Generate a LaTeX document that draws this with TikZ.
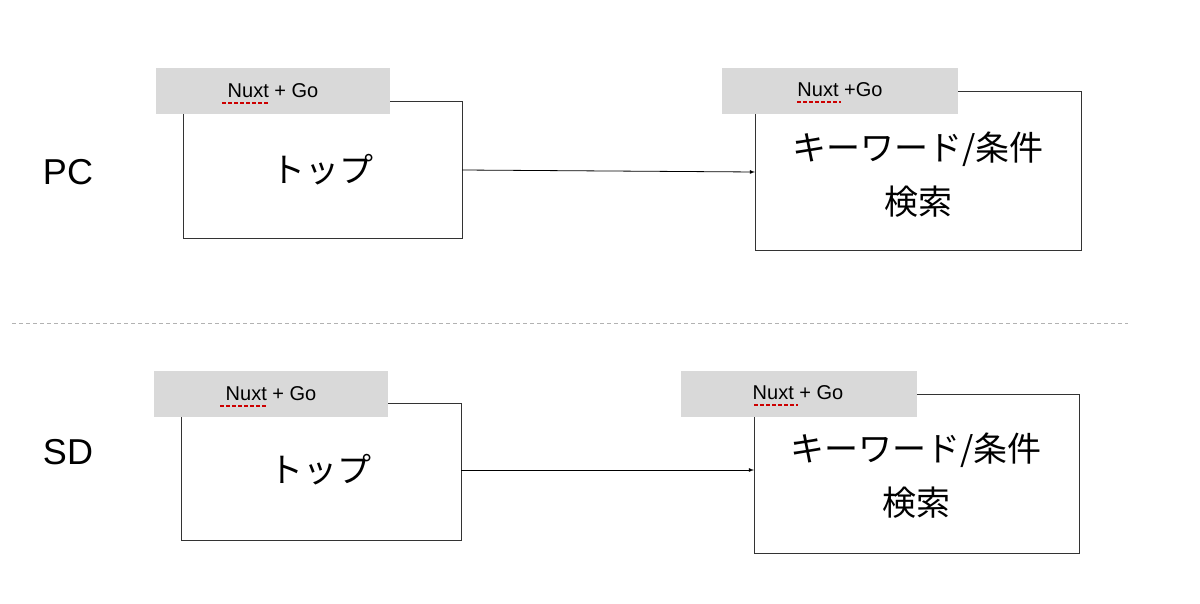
\documentclass[tikz,border=0pt]{standalone}
\usepackage{fontspec}
\setmainfont{Liberation Sans}
\newfontfamily\cjk{Noto Sans CJK JP}
\begin{document}
\begin{tikzpicture}[x=1pt,y=-1pt,
  box/.style={draw=black!80,line width=0.8pt,fill=white},
  tab/.style={fill=black!15},
  nx/.style={font=\fontsize{20}{24}\selectfont},
  jp/.style={font=\cjk\fontsize{34}{40}\selectfont,align=center},
  lbl/.style={font=\fontsize{36}{40}\selectfont},
  arr/.style={-latex,line width=0.8pt},
  sq/.style={red!80!black,dashed,line width=1.5pt,dash pattern=on 4pt off 2pt}]
\useasboundingbox (0,0) rectangle (1200,604);
\fill[white] (0,0) rectangle (1200,604);
% PC row
\node[lbl] (pc) at (68,172) {PC};
\draw[box] (183,101) rectangle (462,238);
\coordinate (b1e) at (462,170);
\fill[tab] (156,68) rectangle (390,114);
\node[nx] (n1) at (273,91) {Nuxt + Go};
\draw[sq] (222,103) -- (269,103);
\node[jp] (t1) at (322,170) {トップ};
\draw[box] (755,91) rectangle (1081,250);
\coordinate (b2w) at (755,172);
\fill[tab] (722,68) rectangle (958,114);
\node[nx] (n2) at (840,90) {Nuxt +Go};
\draw[sq] (797,102) -- (841,102);
\node[jp] (t2) at (918,175) {キーワード/条件\\[14pt]検索};
\draw[arr] (b1e) -- (b2w);
% divider
\draw[black!30,dashed,line width=0.8pt,dash pattern=on 4pt off 3pt] (12,323) -- (1128,323);
% SD row
\node[lbl] (sd) at (68,452) {SD};
\draw[box] (181,403) rectangle (461,540);
\coordinate (b3e) at (461,470);
\fill[tab] (154,371) rectangle (388,417);
\node[nx] (n3) at (271,394) {Nuxt + Go};
\draw[sq] (220,406) -- (267,406);
\node[jp] (t3) at (320,470) {トップ};
\draw[box] (754,394) rectangle (1079,553);
\coordinate (b4w) at (754,470);
\fill[tab] (681,371) rectangle (917,417);
\node[nx] (n4) at (798,393) {Nuxt + Go};
\draw[sq] (754,405) -- (798,405);
\node[jp] (t4) at (916,476) {キーワード/条件\\[14pt]検索};
\draw[arr] (b3e) -- (b4w);
\end{tikzpicture}
\end{document}
